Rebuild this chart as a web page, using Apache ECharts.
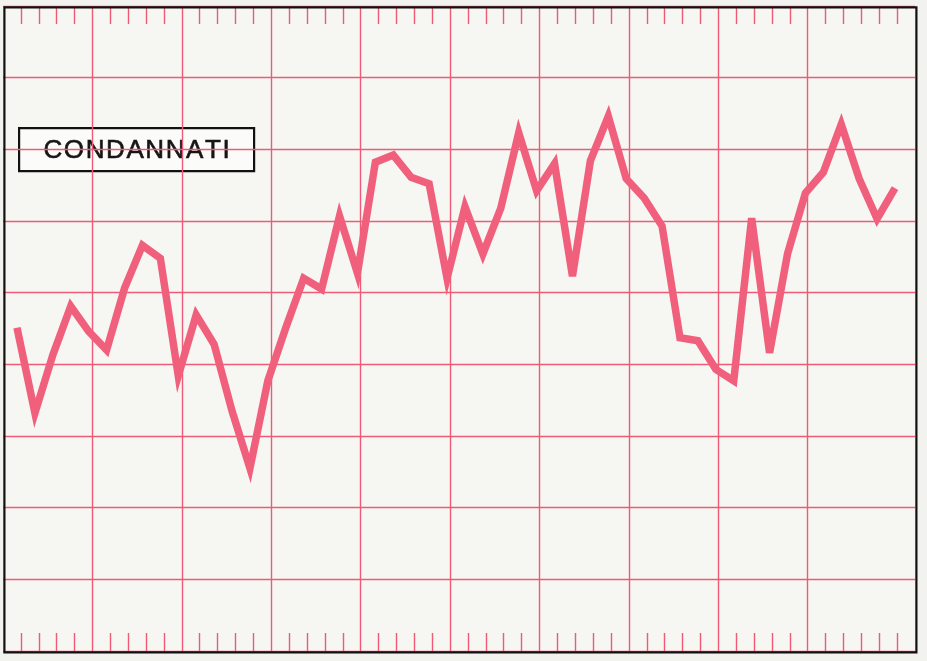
<!DOCTYPE html>
<html>
<head>
<meta charset="utf-8">
<script src="https://cdn.jsdelivr.net/npm/echarts@6/dist/echarts.min.js"></script>
<style>
html,body{margin:0;padding:0;background:#f2f2ef;}
#c{width:927px;height:661px;}
</style>
</head>
<body>
<div id="c"></div>
<script>
// Data (index of period, value in grid units of 10 per row)
const categories = Array.from({length: 50}, (_, i) => String(i + 1));
const condannati = [
  45.1, 33.2, 41.3, 48.1, 44.6, 42.0, 50.6, 56.6, 54.8, 38.4,
  46.9, 42.8, 33.5, 25.5, 37.7, 45.1, 52.0, 50.5, 60.7, 52.7,
  68.2, 69.2, 66.1, 65.2, 52.0, 62.0, 55.4, 61.8, 72.3, 64.2,
  68.0, 52.3, 68.4, 74.6, 65.9, 63.2, 59.3, 43.7, 43.3, 39.3,
  37.7, 60.4, 41.6, 55.4, 63.9, 66.8, 73.5, 65.9, 60.3, 64.6
];
const seriesName = 'CONDANNATI';
// paper divisions along the horizontal scale (52 tick marks, every 5th a full grid line)
const paperSteps = Array.from({length: 52}, (_, i) => String(i));

const RED = '#ef5b76';
const GL = 3, GT = 6, GR = 12, GB = 10;
const W = 927, H = 661;

// label characters, spaced out like the original lettering
const FONT = '400 26px "Liberation Sans"';
const SPACING = 1.6;
const mctx = document.createElement('canvas').getContext('2d');
mctx.font = FONT;
const chars = seriesName.split('');
const widths = chars.map(c => mctx.measureText(c).width);
const total = widths.reduce((a, b) => a + b, 0) + SPACING * (chars.length - 1);
const boxW = 235, boxH = 43;
let cx = (boxW - total) / 2;
const letterEls = chars.map((c, i) => {
  const el = {type: 'text', x: cx, y: boxH / 2 + 1,
    style: {text: c, fill: '#151515', stroke: '#151515', lineWidth: 0.6, font: FONT, align: 'left', verticalAlign: 'middle'}};
  cx += widths[i] + SPACING;
  return el;
});

const minorTick = (i) => i > 0 && i <= 50 && (i % 5 !== 0 || i === 50);

const chart = echarts.init(document.getElementById('c'), null, {renderer: 'canvas'});
chart.setOption({
  backgroundColor: '#f2f2ef',
  animation: false,
  grid: [
    {left: GL, right: GR, top: GT, bottom: GB, show: true, borderWidth: 0, backgroundColor: '#f6f6f3'},
    {left: 17, right: 32, top: GT, bottom: GB}
  ],
  xAxis: [
    { // major vertical grid lines
      gridIndex: 0, type: 'category', data: paperSteps, boundaryGap: false,
      axisLine: {show: false}, axisLabel: {show: false}, axisTick: {show: false},
      splitLine: {show: true, interval: (i) => i > 0 && i < 50 && i % 5 === 0,
                  lineStyle: {color: RED, width: 1.4}}
    },
    { // top minor ticks
      gridIndex: 0, type: 'category', data: paperSteps, boundaryGap: false, position: 'top',
      axisLine: {show: false}, axisLabel: {show: false}, splitLine: {show: false},
      axisTick: {show: true, inside: true, length: 18, interval: minorTick,
                 lineStyle: {color: RED, width: 1.4}}
    },
    { // bottom minor ticks
      gridIndex: 0, type: 'category', data: paperSteps, boundaryGap: false, position: 'bottom',
      axisLine: {show: false}, axisLabel: {show: false}, splitLine: {show: false},
      axisTick: {show: true, inside: true, length: 18, interval: minorTick,
                 lineStyle: {color: RED, width: 1.4}}
    },
    { // data axis
      gridIndex: 1, type: 'category', data: categories, boundaryGap: false,
      axisLine: {show: false}, axisLabel: {show: false}, axisTick: {show: false}, splitLine: {show: false}
    }
  ],
  yAxis: [
    {gridIndex: 0, type: 'value', min: 0, max: 90, interval: 10,
     axisLine: {show: false}, axisLabel: {show: false}, axisTick: {show: false},
     splitLine: {show: true, lineStyle: {color: RED, width: 1.4}}},
    {gridIndex: 1, type: 'value', min: 0, max: 90, interval: 10,
     axisLine: {show: false}, axisLabel: {show: false}, axisTick: {show: false}, splitLine: {show: false}}
  ],
  series: [{
    name: seriesName, type: 'line', xAxisIndex: 3, yAxisIndex: 1,
    data: condannati, symbol: 'none', z: 5,
    lineStyle: {color: '#f0607c', width: 7.5, join: 'miter', miterLimit: 6}
  }],
  graphic: [
    {type: 'rect', left: GL - 1.1, top: GT - 1.1, z: 20, silent: true,
     shape: {x: 0, y: 0, width: W - GL - GR, height: H - GT - GB},
     style: {fill: 'none', stroke: '#111', lineWidth: 2.2}},
    {type: 'group', left: 18, top: 127, z: 10,
     children: [
       {type: 'rect', shape: {x: 0, y: 0, width: boxW, height: boxH},
        style: {fill: '#fbfbfa', stroke: '#111', lineWidth: 2.2}}
     ].concat(letterEls)
    }
  ]
});
</script>
</body>
</html>
